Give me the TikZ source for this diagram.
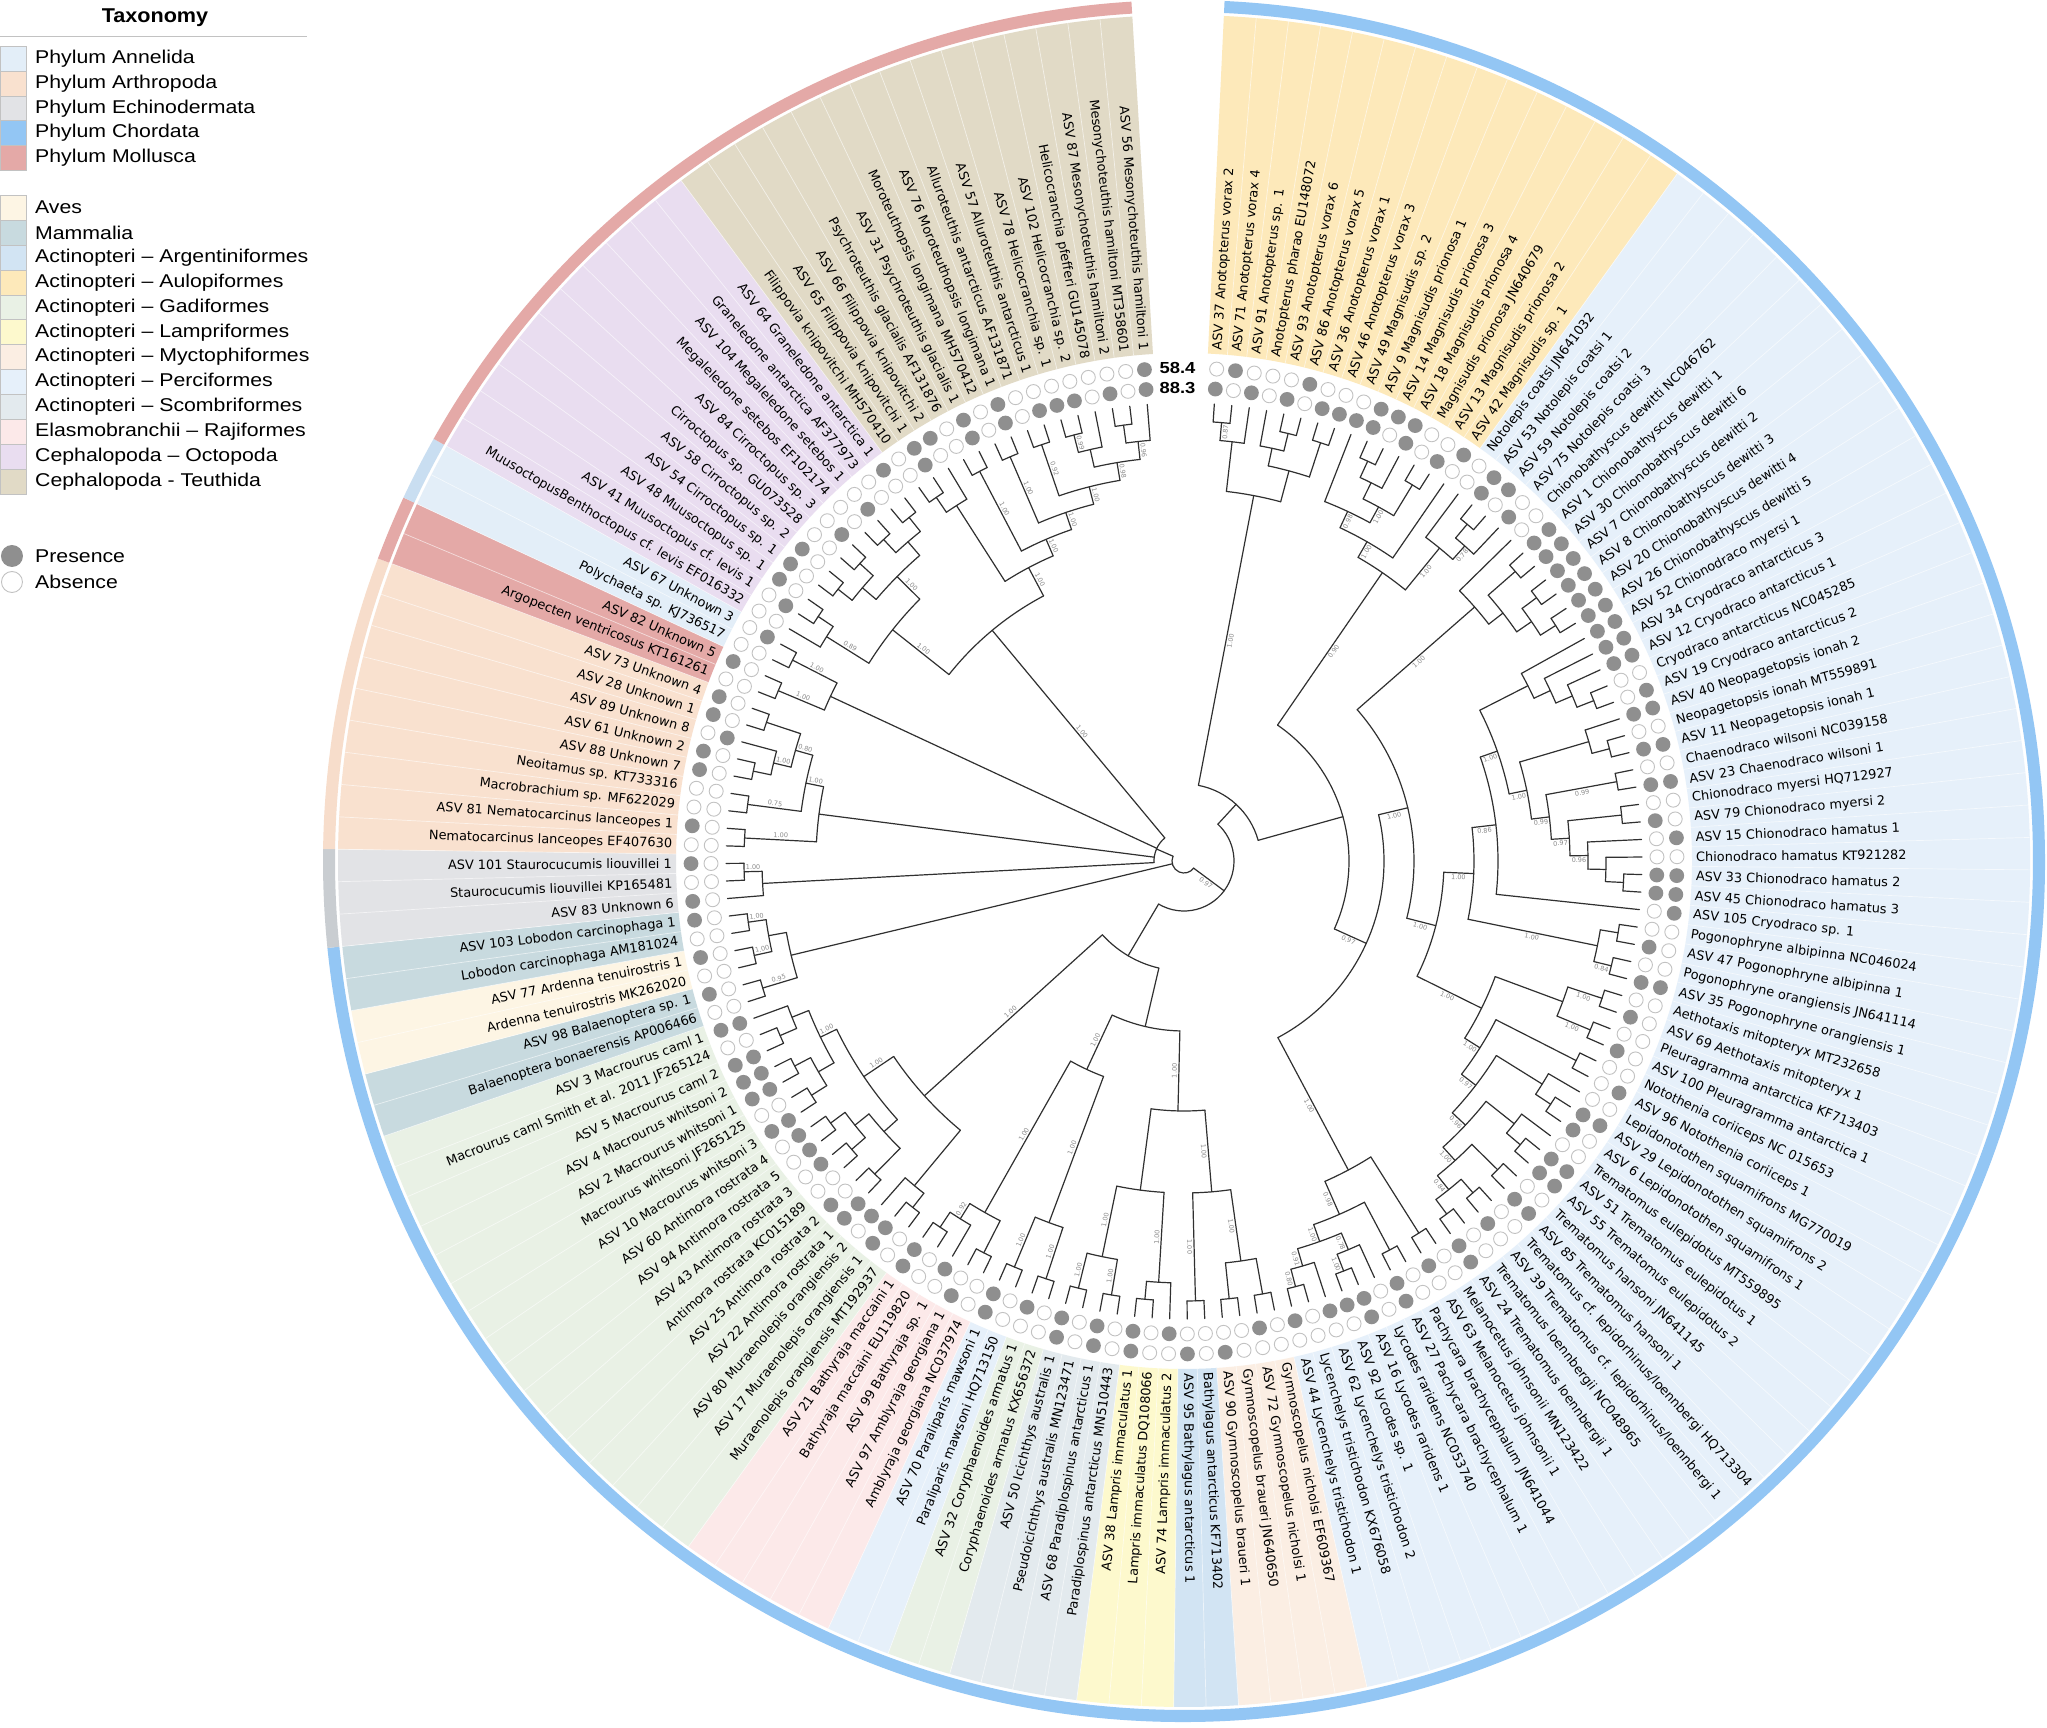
\documentclass[tikz,border=0pt]{standalone}
\usepackage{fontspec}
\setmainfont{DejaVu Sans}
\newfontfamily\legfont[FakeStretch=1.15]{Liberation Sans}
\newfontfamily\titfont[FakeStretch=1.08]{Liberation Sans}
\definecolor{cAnn}{HTML}{E3EEF8}
\definecolor{cArth}{HTML}{F9E1CF}
\definecolor{cEchi}{HTML}{E2E3E6}
\definecolor{cChord}{HTML}{93C6F4}
\definecolor{cMoll}{HTML}{E4A9A7}
\definecolor{cAves}{HTML}{FDF5E4}
\definecolor{cMamm}{HTML}{C8DADF}
\definecolor{cArg}{HTML}{D2E4F3}
\definecolor{cAul}{HTML}{FDE9BA}
\definecolor{cGad}{HTML}{E9F1E5}
\definecolor{cLam}{HTML}{FDF9CD}
\definecolor{cMyc}{HTML}{FBEEE3}
\definecolor{cPer}{HTML}{E6F0FA}
\definecolor{cSco}{HTML}{E3EAEE}
\definecolor{cRaj}{HTML}{FCE9E9}
\definecolor{cOct}{HTML}{E9DDF0}
\definecolor{cTeu}{HTML}{E1DAC6}
\definecolor{rEchi}{HTML}{C9CDD1}
\definecolor{rArth}{HTML}{F7DDCB}
\definecolor{rAnn}{HTML}{C9DEF1}
\definecolor{treec}{HTML}{303030}
\definecolor{presc}{HTML}{8F8F8F}
\definecolor{absc}{HTML}{C2C2C2}
\definecolor{supc}{HTML}{8A8A8A}

\def\LA#1{\csname LA@#1\endcsname}
\def\LR#1{\csname LR@#1\endcsname}
\newcommand\defleaf[1]{%
  \pgfmathsetmacro\tmpang{86.2-(#1-1)*2.1975}%
  \expandafter\xdef\csname LA@#1\endcsname{\tmpang}%
  \expandafter\xdef\csname LR@#1\endcsname{458}}
\newcommand\band[3]{%
  \pgfmathsetmacro\ba{\LA{#1}+1.09875}\pgfmathsetmacro\bb{\LA{#2}-1.09875}%
  \fill[#3] (\ba:508) arc[start angle=\ba,end angle=\bb,radius=508] -- (\bb:846) arc[start angle=\bb,end angle=\ba,radius=846] -- cycle;}
\newcommand\ringseg[3]{%
  \pgfmathsetmacro\ba{\LA{#1}+1.09875}\pgfmathsetmacro\bb{\LA{#2}-1.09875}%
  \fill[#3] (\ba:849) arc[start angle=\ba,end angle=\bb,radius=849] -- (\bb:861) arc[start angle=\bb,end angle=\ba,radius=861] -- cycle;}
\newcommand\clade[4][]{%
  \gdef\cmin{1000}\gdef\cmax{-1000}%
  \foreach \ch in {#4}{%
    \edef\cAng{\LA{\ch}}\edef\cRad{\LR{\ch}}%
    \draw[tree] (\cAng:#3) -- (\cAng:\cRad);
    \ifcsname LS@\ch\endcsname
      \pgfmathsetmacro\mr{(#3+\cRad)/2}%
      \pgfmathsetmacro\ma{\cAng-4.5*57.3/\mr}%
      \pgfmathsetmacro\rot{\cAng>-90 ? \cAng : \cAng+180}%
      \node[sup,rotate=\rot] at (\ma:\mr) {\csname LS@\ch\endcsname};
    \fi
    \pgfmathsetmacro\tmp{min(\cmin,\cAng)}\xdef\cmin{\tmp}%
    \pgfmathsetmacro\tmp{max(\cmax,\cAng)}\xdef\cmax{\tmp}%
  }%
  \draw[tree] (\cmin:#3) arc[start angle=\cmin,end angle=\cmax,radius=#3];
  \pgfmathsetmacro\tmp{(\cmin+\cmax)/2}%
  \expandafter\xdef\csname LA@#2\endcsname{\tmp}%
  \expandafter\xdef\csname LR@#2\endcsname{#3}%
  \if\relax\detokenize{#1}\relax\else\expandafter\xdef\csname LS@#2\endcsname{#1}\fi}
\newcommand\leaf[4]{%
  \pgfmathsetmacro\la{\LA{#1}}%
  \ifnum#2=1 \fill[pres] (\la:493) circle[radius=7.4];\else\draw[absn] (\la:493) circle[radius=7];\fi
  \ifnum#3=1 \fill[pres] (\la:473) circle[radius=7.4];\else\draw[absn] (\la:473) circle[radius=7];\fi
  \ifdim\la pt>-90pt
    \node[lab,anchor=west,rotate=\la] at (\la:512) {#4};
  \else
    \pgfmathsetmacro\lb{\la+180}%
    \node[lab,anchor=east,rotate=\lb] at (\la:512) {#4};
  \fi}
% legend row: y top (image px), row height, colour, text
\newcommand\legrow[4]{%
  \fill[#3,draw=absc,line width=0.6] (-1184,861-#1) rectangle (-1158,861-#1-#2);
  \node[legtext,anchor=west] at (-1149,861-#1-#2/2) {#4};}

\begin{document}
\begin{tikzpicture}[x=1pt,y=1pt,
  tree/.style={draw=treec,line width=1.2pt,line cap=round},
  lab/.style={font=\fontsize{12.9}{13}\selectfont,inner sep=0pt,text=black},
  sup/.style={font=\fontsize{6.5}{7}\selectfont,inner sep=0pt,text=supc},
  pres/.style={fill=presc},
  absn/.style={draw=absc,line width=0.9pt,fill=white},
  legtext/.style={font=\legfont\fontsize{18.5}{19}\selectfont,inner sep=0pt,text=black}]
\useasboundingbox (-1184,-866) rectangle (863,861);
\fill[white] (-1184,-866) rectangle (863,861);
\foreach \i in {1,...,161}{\defleaf{\i}}
% ---------- taxonomy bands ----------
\band{1}{15}{cAul}
\band{16}{75}{cPer}
\band{76}{79}{cMyc}
\band{80}{81}{cArg}
\band{82}{84}{cLam}
\band{85}{88}{cSco}
\band{89}{90}{cGad}
\band{91}{92}{cPer}
\band{93}{97}{cRaj}
\band{98}{113}{cGad}
\band{114}{115}{cMamm}
\band{116}{117}{cAves}
\band{118}{119}{cMamm}
\band{120}{122}{cEchi}
\band{123}{131}{cArth}
\band{132}{133}{cMoll}
\band{134}{135}{cAnn}
\band{136}{146}{cOct}
\band{147}{161}{cTeu}
\foreach \i in {1,...,160}{\pgfmathsetmacro\sa{\LA{\i}-1.09875}\draw[white,line width=0.7pt,opacity=0.6] (\sa:508) -- (\sa:846);}
% ---------- phylum ring ----------
\ringseg{1}{119}{cChord}
\ringseg{120}{122}{rEchi}
\ringseg{123}{131}{rArth}
\ringseg{132}{133}{cMoll}
\ringseg{134}{135}{rAnn}
\ringseg{136}{161}{cMoll}
% ---------- tree ----------
% Aulopiformes
\clade[0.87]{a1}{440}{1,2}
\clade{a2}{422}{a1,3}
\clade{a3}{440}{5,6}
\clade{a4}{422}{4,a3}
\clade{a5}{440}{7,8}
\clade{a6}{404}{a4,a5}
\clade[1.00]{ANOT}{372}{a2,a6}
\clade{m1}{440}{10,11}
\clade{m2}{422}{m1,12}
\clade{m3}{440}{13,14}
\clade[1.00]{m4}{404}{m2,m3}
\clade[0.98]{m5}{386}{9,m4}
\clade[1.00]{MAG}{368}{m5,15}
\clade{n1}{440}{17,18}
\clade[0.78]{n2}{422}{n1,19}
\clade[1.00]{NOTL}{404}{16,n2}
\clade[0.90]{PARAL}{350}{MAG,NOTL}
% Chionobathyscus
\clade{cb1}{440}{21,22}
\clade{cb2}{440}{23,24}
\clade{cb3}{440}{25,26}
\clade{cb4}{422}{cb2,cb3}
\clade{cb5}{404}{cb1,cb4}
\clade[1.00]{CB}{386}{20,cb5}
% Channichthyidae
\clade{ch1a}{440}{41,42}
\clade{ch1}{422}{40,ch1a}
\clade[0.96]{ch2}{404}{39,ch1}
\clade{ch3}{440}{37,38}
\clade[0.97]{ch4}{386}{ch3,ch2}
\clade[0.99]{ch5}{440}{35,36}
\clade[0.99]{ch6}{368}{ch5,ch4}
\clade{ch7}{440}{33,34}
\clade{ch8}{422}{32,ch7}
\clade[1.00]{ch9}{350}{ch8,ch6}
\clade{ch10}{440}{30,31}
\clade{ch11}{422}{29,ch10}
\clade{ch12}{404}{28,ch11}
\clade{ch13}{386}{27,ch12}
\clade[1.00]{ch14}{332}{ch13,ch9}
\clade[0.86]{CHAN}{314}{ch14,43}
% Pogonophryne and other notothenioids
\clade{p1}{440}{44,45}
\clade[0.84]{p2}{440}{46,47}
\clade[1.00]{POG}{422}{p1,p2}
\clade[1.00]{AET}{440}{48,49}
\clade[1.00]{PLE}{440}{50,51}
\clade{PA}{404}{AET,PLE}
\clade{NOTH}{440}{52,53}
\clade{l1}{440}{55,56}
\clade{LEP}{422}{54,l1}
\clade{t1}{440}{58,59}
\clade{t2}{422}{57,t1}
\clade{t3}{440}{60,61}
\clade{t4}{440}{62,63}
\clade{t5}{440}{64,65}
\clade[0.84]{t6}{422}{t4,t5}
\clade[1.00]{t7}{404}{t3,t6}
\clade[0.96]{TREM}{386}{t2,t7}
\clade[0.97]{tl}{368}{LEP,TREM}
\clade[1.00]{tn}{350}{NOTH,tl}
\clade[1.00]{tp}{332}{PA,tn}
% Zoarcidae etc.
\clade{MEL}{440}{66,67}
\clade{z1}{440}{68,69}
\clade[1.00]{z2}{440}{71,72}
\clade[0.78]{z3}{422}{70,z2}
\clade[0.80]{z4}{440}{74,75}
\clade[0.91]{z5}{422}{73,z4}
\clade[1.00]{z6}{404}{z3,z5}
\clade[0.98]{ZOA}{386}{z1,z6}
\clade[1.00]{MZ}{350}{MEL,ZOA}
\clade[1.00]{nt1}{290}{CHAN,POG}
\clade[1.00]{nt2}{260}{nt1,tp}
\clade[1.00]{nt3}{230}{CB,nt2}
\clade[0.97]{PERC}{200}{nt3,MZ}
\clade{B1}{165}{PARAL,PERC}
\clade{B0}{77}{ANOT,B1}
% bottom fishes
\clade{y1}{440}{76,77}
\clade{y2}{440}{78,79}
\clade[1.00]{MYC}{404}{y1,y2}
\clade[1.00]{ARG}{440}{80,81}
\clade[1.00]{MA}{332}{MYC,ARG}
\clade{lm1}{440}{83,84}
\clade[1.00]{LAM}{422}{82,lm1}
\clade[1.00]{s1}{440}{85,86}
\clade[1.00]{s2}{440}{87,88}
\clade[1.00]{SCO}{404}{s1,s2}
\clade{LS}{332}{LAM,SCO}
\clade[1.00]{COR}{440}{89,90}
\clade[1.00]{PARL}{440}{91,92}
\clade[1.00]{CP}{386}{COR,PARL}
\clade{j1}{440}{93,94}
\clade{j2}{440}{96,97}
\clade[0.92]{j3}{422}{95,j2}
\clade[1.00]{RAJ}{404}{j1,j3}
\clade{g1}{440}{98,99}
\clade{g2}{422}{g1,100}
\clade{g3}{440}{101,102}
\clade{g4}{440}{103,104}
\clade{g5}{440}{105,106}
\clade{g6}{422}{g4,g5}
\clade{g7}{404}{g3,g6}
\clade{g8}{440}{107,108}
\clade{g9}{440}{109,110}
\clade{g10}{422}{g8,g9}
\clade{g11}{440}{111,112}
\clade{g12}{422}{g11,113}
\clade[1.00]{g13}{404}{g10,g12}
\clade[1.00]{g14}{386}{g7,g13}
\clade[1.00]{GAD}{350}{g2,g14}
\clade[1.00]{BF1}{250}{MA,LS}
\clade[1.00]{BF2}{230}{CP,RAJ}
\clade{BF3}{170}{BF1,BF2}
\clade{BF4}{110}{BF3,GAD}
\clade[0.97]{FISH}{50}{B0,BF4}
% tetrapods
\clade[0.95]{MB}{440}{114,115}
\clade[1.00]{AV}{440}{116,117}
\clade[1.00]{LOB}{440}{118,119}
\clade{TET1}{422}{AV,LOB}
\clade{TET}{404}{MB,TET1}
% invertebrates
\clade[1.00]{e1}{440}{121,122}
\clade{ECHI}{422}{120,e1}
\clade[1.00]{r1}{440}{123,124}
\clade[0.75]{r2}{440}{125,126}
\clade{r3}{440}{127,128}
\clade[1.00]{r4}{422}{r3,129}
\clade{r5}{440}{130,131}
\clade[0.80]{r6}{404}{r4,r5}
\clade[1.00]{r7}{386}{r2,r6}
\clade{ARTH}{368}{r1,r7}
\clade[1.00]{BIV}{440}{132,133}
\clade[1.00]{ANN}{440}{134,135}
\clade{AB}{390}{BIV,ANN}
\clade{o1}{440}{145,146}
\clade{o2}{440}{143,144}
\clade{o3}{422}{o2,o1}
\clade{o4}{440}{141,142}
\clade{o5}{440}{139,140}
\clade{o6}{422}{o5,o4}
\clade[1.00]{o7}{404}{o6,o3}
\clade{o8}{440}{137,138}
\clade[0.89]{o9}{422}{136,o8}
\clade[1.00]{OCT}{372}{o9,o7}
\clade{tt1}{440}{159,160}
\clade[0.96]{tt2}{422}{tt1,161}
\clade[0.99]{tt3}{440}{156,157}
\clade{tt4}{422}{tt3,158}
\clade[0.98]{tt5}{404}{tt4,tt2}
\clade[0.92]{tt6}{440}{154,155}
\clade[1.00]{tt7}{386}{tt6,tt5}
\clade[1.00]{tt8}{440}{152,153}
\clade[1.00]{tt9}{368}{tt8,tt7}
\clade[1.00]{tt10}{440}{150,151}
\clade[1.00]{tt11}{350}{tt10,tt9}
\clade{tt12}{440}{147,148}
\clade{tt13}{422}{tt12,149}
\clade[1.00]{TEU}{332}{tt13,tt11}
\clade[1.00]{CEPH}{300}{OCT,TEU}
\clade{INV}{30}{ECHI,ARTH,AB,CEPH}
\clade{ROOT}{12}{FISH,TET,INV}
% ---------- leaves: index, 58.4 (outer), 88.3 (inner), label ----------
\leaf{1}{0}{1}{ASV 37 Anotopterus vorax 2}
\leaf{2}{1}{0}{ASV 71 Anotopterus vorax 4}
\leaf{3}{0}{1}{ASV 91 Anotopterus sp. 1}
\leaf{4}{0}{0}{Anotopterus pharao EU148072}
\leaf{5}{0}{1}{ASV 93 Anotopterus vorax 6}
\leaf{6}{1}{0}{ASV 86 Anotopterus vorax 5}
\leaf{7}{0}{1}{ASV 36 Anotopterus vorax 1}
\leaf{8}{0}{1}{ASV 46 Anotopterus vorax 3}
\leaf{9}{0}{1}{ASV 49 Magnisudis sp. 2}
\leaf{10}{1}{1}{ASV 9 Magnisudis prionosa 1}
\leaf{11}{1}{0}{ASV 14 Magnisudis prionosa 3}
\leaf{12}{1}{1}{ASV 18 Magnisudis prionosa 4}
\leaf{13}{0}{0}{Magnisudis prionosa JN640679}
\leaf{14}{0}{1}{ASV 13 Magnisudis prionosa 2}
\leaf{15}{1}{0}{ASV 42 Magnisudis sp. 1}
\leaf{16}{0}{0}{Notolepis coatsi JN641032}
\leaf{17}{1}{1}{ASV 53 Notolepis coatsi 1}
\leaf{18}{1}{0}{ASV 59 Notolepis coatsi 2}
\leaf{19}{0}{1}{ASV 75 Notolepis coatsi 3}
\leaf{20}{0}{0}{Chionobathyscus dewitti NC046762}
\leaf{21}{1}{1}{ASV 1 Chionobathyscus dewitti 1}
\leaf{22}{1}{1}{ASV 30 Chionobathyscus dewitti 6}
\leaf{23}{1}{1}{ASV 7 Chionobathyscus dewitti 2}
\leaf{24}{1}{1}{ASV 8 Chionobathyscus dewitti 3}
\leaf{25}{1}{1}{ASV 20 Chionobathyscus dewitti 4}
\leaf{26}{1}{1}{ASV 26 Chionobathyscus dewitti 5}
\leaf{27}{1}{1}{ASV 52 Chionodraco myersi 1}
\leaf{28}{1}{1}{ASV 34 Cryodraco antarcticus 3}
\leaf{29}{1}{1}{ASV 12 Cryodraco antarcticus 1}
\leaf{30}{0}{0}{Cryodraco antarcticus NC045285}
\leaf{31}{1}{0}{ASV 19 Cryodraco antarcticus 2}
\leaf{32}{1}{1}{ASV 40 Neopagetopsis ionah 2}
\leaf{33}{0}{0}{Neopagetopsis ionah MT559891}
\leaf{34}{1}{1}{ASV 11 Neopagetopsis ionah 1}
\leaf{35}{0}{0}{Chaenodraco wilsoni NC039158}
\leaf{36}{1}{1}{ASV 23 Chaenodraco wilsoni 1}
\leaf{37}{0}{0}{Chionodraco myersi HQ712927}
\leaf{38}{0}{1}{ASV 79 Chionodraco myersi 2}
\leaf{39}{1}{0}{ASV 15 Chionodraco hamatus 1}
\leaf{40}{0}{0}{Chionodraco hamatus KT921282}
\leaf{41}{1}{1}{ASV 33 Chionodraco hamatus 2}
\leaf{42}{1}{1}{ASV 45 Chionodraco hamatus 3}
\leaf{43}{1}{0}{ASV 105 Cryodraco sp. 1}
\leaf{44}{0}{0}{Pogonophryne albipinna NC046024}
\leaf{45}{0}{1}{ASV 47 Pogonophryne albipinna 1}
\leaf{46}{0}{0}{Pogonophryne orangiensis JN641114}
\leaf{47}{1}{1}{ASV 35 Pogonophryne orangiensis 1}
\leaf{48}{0}{0}{Aethotaxis mitopteryx MT232658}
\leaf{49}{0}{1}{ASV 69 Aethotaxis mitopteryx 1}
\leaf{50}{0}{0}{Pleuragramma antarctica KF713403}
\leaf{51}{0}{1}{ASV 100 Pleuragramma antarctica 1}
\leaf{52}{0}{0}{Notothenia coriiceps NC 015653}
\leaf{53}{1}{0}{ASV 96 Notothenia coriiceps 1}
\leaf{54}{0}{0}{Lepidonotothen squamifrons MG770019}
\leaf{55}{1}{1}{ASV 29 Lepidonotothen squamifrons 2}
\leaf{56}{0}{1}{ASV 6 Lepidonotothen squamifrons 1}
\leaf{57}{0}{0}{Trematomus eulepidotus MT559895}
\leaf{58}{1}{1}{ASV 51 Trematomus eulepidotus 1}
\leaf{59}{1}{1}{ASV 55 Trematomus eulepidotus 2}
\leaf{60}{0}{0}{Trematomus hansoni JN641145}
\leaf{61}{1}{1}{ASV 85 Trematomus hansoni 1}
\leaf{62}{0}{0}{Trematomus cf. lepidorhinus/loennbergi HQ713304}
\leaf{63}{0}{1}{ASV 39 Trematomus cf. lepidorhinus/loennbergi 1}
\leaf{64}{0}{0}{Trematomus loennbergii NC048965}
\leaf{65}{1}{1}{ASV 24 Trematomus loennbergii 1}
\leaf{66}{0}{0}{Melanocetus johnsonii MN123422}
\leaf{67}{0}{1}{ASV 63 Melanocetus johnsonii 1}
\leaf{68}{0}{0}{Pachycara brachycephalum JN641044}
\leaf{69}{1}{1}{ASV 27 Pachycara brachycephalum 1}
\leaf{70}{0}{0}{Lycodes raridens NC053740}
\leaf{71}{1}{1}{ASV 16 Lycodes raridens 1}
\leaf{72}{0}{1}{ASV 92 Lycodes sp. 1}
\leaf{73}{0}{1}{ASV 62 Lycenchelys tristichodon 2}
\leaf{74}{0}{0}{Lycenchelys tristichodon KX676058}
\leaf{75}{0}{1}{ASV 44 Lycenchelys tristichodon 1}
\leaf{76}{0}{0}{Gymnoscopelus nicholsi EF609367}
\leaf{77}{0}{1}{ASV 72 Gymnoscopelus nicholsi 1}
\leaf{78}{0}{0}{Gymnoscopelus braueri JN640650}
\leaf{79}{1}{0}{ASV 90 Gymnoscopelus braueri 1}
\leaf{80}{0}{0}{Bathylagus antarcticus KF713402}
\leaf{81}{1}{0}{ASV 95 Bathylagus antarcticus 1}
\leaf{82}{0}{1}{ASV 74 Lampris immaculatus 2}
\leaf{83}{0}{0}{Lampris immaculatus DQ108066}
\leaf{84}{1}{1}{ASV 38 Lampris immaculatus 1}
\leaf{85}{0}{0}{Paradiplospinus antarcticus MN510443}
\leaf{86}{1}{1}{ASV 68 Paradiplospinus antarcticus 1}
\leaf{87}{0}{0}{Pseudoicichthys australis MN123471}
\leaf{88}{1}{1}{ASV 50 Icichthys australis 1}
\leaf{89}{0}{0}{Coryphaenoides armatus KX656372}
\leaf{90}{0}{1}{ASV 32 Coryphaenoides armatus 1}
\leaf{91}{0}{0}{Paraliparis mawsoni HQ713150}
\leaf{92}{1}{1}{ASV 70 Paraliparis mawsoni 1}
\leaf{93}{0}{0}{Amblyraja georgiana NC037974}
\leaf{94}{1}{0}{ASV 97 Amblyraja georgiana 1}
\leaf{95}{0}{1}{ASV 99 Bathyraja sp. 1}
\leaf{96}{0}{0}{Bathyraja maccaini EU119820}
\leaf{97}{1}{1}{ASV 21 Bathyraja maccaini 1}
\leaf{98}{0}{0}{Muraenolepis orangiensis MT192937}
\leaf{99}{1}{1}{ASV 17 Muraenolepis orangiensis 1}
\leaf{100}{0}{1}{ASV 80 Muraenolepis orangiensis 2}
\leaf{101}{1}{1}{ASV 22 Antimora rostrata 1}
\leaf{102}{1}{0}{ASV 25 Antimora rostrata 2}
\leaf{103}{0}{0}{Antimora rostrata KC015189}
\leaf{104}{0}{1}{ASV 43 Antimora rostrata 3}
\leaf{105}{0}{1}{ASV 94 Antimora rostrata 5}
\leaf{106}{0}{1}{ASV 60 Antimora rostrata 4}
\leaf{107}{1}{1}{ASV 10 Macrourus whitsoni 3}
\leaf{108}{0}{0}{Macrourus whitsoni JF265125}
\leaf{109}{1}{1}{ASV 2 Macrourus whitsoni 1}
\leaf{110}{1}{1}{ASV 4 Macrourus whitsoni 2}
\leaf{111}{1}{1}{ASV 5 Macrourus caml 2}
\leaf{112}{0}{0}{Macrourus caml Smith et al. 2011 JF265124}
\leaf{113}{1}{1}{ASV 3 Macrourus caml 1}
\leaf{114}{0}{0}{Balaenoptera bonaerensis AP006466}
\leaf{115}{1}{0}{ASV 98 Balaenoptera sp. 1}
\leaf{116}{0}{0}{Ardenna tenuirostris MK262020}
\leaf{117}{1}{0}{ASV 77 Ardenna tenuirostris 1}
\leaf{118}{0}{0}{Lobodon carcinophaga AM181024}
\leaf{119}{1}{0}{ASV 103 Lobodon carcinophaga 1}
\leaf{120}{1}{0}{ASV 83 Unknown 6}
\leaf{121}{0}{0}{Staurocucumis liouvillei KP165481}
\leaf{122}{1}{0}{ASV 101 Staurocucumis liouvillei 1}
\leaf{123}{0}{0}{Nematocarcinus lanceopes EF407630}
\leaf{124}{1}{0}{ASV 81 Nematocarcinus lanceopes 1}
\leaf{125}{0}{0}{Macrobrachium sp. MF622029}
\leaf{126}{0}{0}{Neoitamus sp. KT733316}
\leaf{127}{1}{0}{ASV 88 Unknown 7}
\leaf{128}{1}{0}{ASV 61 Unknown 2}
\leaf{129}{0}{1}{ASV 89 Unknown 8}
\leaf{130}{1}{0}{ASV 28 Unknown 1}
\leaf{131}{1}{0}{ASV 73 Unknown 4}
\leaf{132}{0}{0}{Argopecten ventricosus KT161261}
\leaf{133}{1}{0}{ASV 82 Unknown 5}
\leaf{134}{0}{0}{Polychaeta sp. KJ736517}
\leaf{135}{0}{1}{ASV 67 Unknown 3}
\leaf{136}{0}{0}{MuusoctopusBenthoctopus cf. levis EF016332}
\leaf{137}{0}{1}{ASV 41 Muusoctopus cf. levis 1}
\leaf{138}{1}{0}{ASV 48 Muusoctopus sp. 1}
\leaf{139}{1}{0}{ASV 54 Cirroctopus sp. 1}
\leaf{140}{1}{0}{ASV 58 Cirroctopus sp. 2}
\leaf{141}{0}{0}{Cirroctopus sp. GU073528}
\leaf{142}{0}{1}{ASV 84 Cirroctopus sp. 3}
\leaf{143}{0}{0}{Megaleledone setebos EF102174}
\leaf{144}{0}{1}{ASV 104 Megaleledone setebos 1}
\leaf{145}{0}{0}{Graneledone antarctica AF377973}
\leaf{146}{1}{0}{ASV 64 Graneledone antarctica 1}
\leaf{147}{0}{0}{Filippovia knipovitchi MH570410}
\leaf{148}{1}{1}{ASV 65 Filippovia knipovitchi 1}
\leaf{149}{1}{0}{ASV 66 Filippovia knipovitchi 2}
\leaf{150}{0}{0}{Psychroteuthis glacialis AF131876}
\leaf{151}{1}{1}{ASV 31 Psychroteuthis glacialis 1}
\leaf{152}{0}{0}{Moroteuthopsis longimana MH570412}
\leaf{153}{1}{1}{ASV 76 Moroteuthopsis longimana 1}
\leaf{154}{0}{0}{Alluroteuthis antarcticus AF131871}
\leaf{155}{0}{1}{ASV 57 Alluroteuthis antarcticus 1}
\leaf{156}{0}{1}{ASV 78 Helicocranchia sp. 1}
\leaf{157}{0}{1}{ASV 102 Helicocranchia sp. 2}
\leaf{158}{0}{0}{Helicocranchia pfefferi GU145078}
\leaf{159}{0}{1}{ASV 87 Mesonychoteuthis hamiltoni 2}
\leaf{160}{0}{0}{Mesonychoteuthis hamiltoni MT358601}
\leaf{161}{1}{1}{ASV 56 Mesonychoteuthis hamiltoni 1}
\node[font=\legfont\bfseries\fontsize{16}{16}\selectfont,inner sep=0pt] at (-6.5,493) {58.4};
\node[font=\legfont\bfseries\fontsize{16}{16}\selectfont,inner sep=0pt] at (-6.5,473) {88.3};
% ---------- legend ----------
\node[font=\titfont\bfseries\fontsize{20}{20}\selectfont,inner sep=0pt] at (-1029,843) {Taxonomy};
\draw[absc,line width=1.5pt] (-1184,824.4) -- (-877,824.4);
\legrow{46.3}{24.8}{cAnn}{Phylum Annelida}
\legrow{71.1}{24.8}{cArth}{Phylum Arthropoda}
\legrow{95.9}{24.8}{cEchi}{Phylum Echinodermata}
\legrow{120.7}{24.8}{cChord}{Phylum Chordata}
\legrow{145.5}{24.8}{cMoll}{Phylum Mollusca}
\legrow{195.2}{24.92}{cAves}{Aves}
\legrow{220.12}{24.92}{cMamm}{Mammalia}
\legrow{245.04}{24.92}{cArg}{Actinopteri – Argentiniformes}
\legrow{269.96}{24.92}{cAul}{Actinopteri – Aulopiformes}
\legrow{294.88}{24.92}{cGad}{Actinopteri – Gadiformes}
\legrow{319.8}{24.92}{cLam}{Actinopteri – Lampriformes}
\legrow{344.72}{24.92}{cMyc}{Actinopteri – Myctophiformes}
\legrow{369.64}{24.92}{cPer}{Actinopteri – Perciformes}
\legrow{394.56}{24.92}{cSco}{Actinopteri – Scombriformes}
\legrow{419.48}{24.92}{cRaj}{Elasmobranchii – Rajiformes}
\legrow{444.4}{24.92}{cOct}{Cephalopoda – Octopoda}
\legrow{469.32}{24.92}{cTeu}{Cephalopoda - Teuthida}
\fill[presc] (-1172,305) circle[radius=11];
\node[legtext,anchor=west] at (-1149,305) {Presence};
\draw[absc,line width=0.9pt,fill=white] (-1172,279) circle[radius=10.5];
\node[legtext,anchor=west] at (-1149,279) {Absence};
\end{tikzpicture}
\end{document}
